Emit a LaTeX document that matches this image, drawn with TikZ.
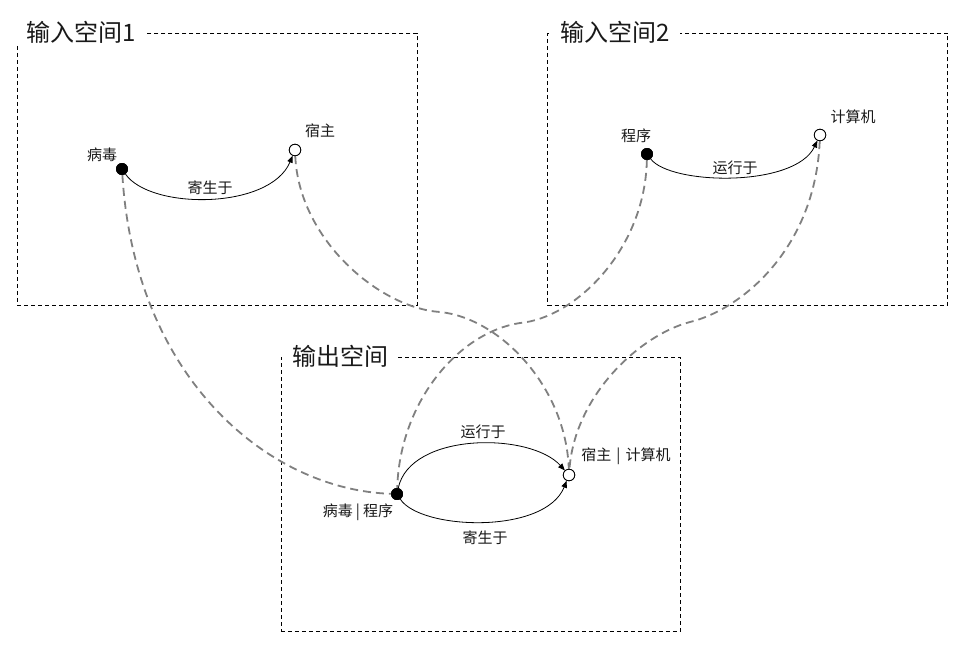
\documentclass[tikz,border=0pt]{standalone}
\usepackage{fontspec}
\newfontfamily\cjk{Noto Sans CJK SC}
\usetikzlibrary{arrows.meta}
\begin{document}
\begin{tikzpicture}[x=1pt,y=-1pt,
  spacebox/.style={draw=black, dash pattern=on 4pt off 3pt, line width=0.8pt, inner sep=0pt, anchor=north west},
  spacetitle/.style={fill=white, inner xsep=10pt, inner ysep=2pt, text=black!90, font=\cjk\fontsize{24}{27}\selectfont},
  lbl/.style={font=\cjk\fontsize{15}{17}\selectfont, inner sep=0pt, text=black!90},
  fdot/.style={circle, fill=black, draw=black, minimum size=11.5pt, inner sep=0pt},
  odot/.style={circle, fill=white, draw=black, line width=0.8pt, minimum size=11.5pt, inner sep=0pt},
  rel/.style={draw=black, line width=0.8pt, -{Triangle[length=7pt,width=5.5pt]}},
  mapline/.style={draw=black!50, line width=1.8pt, dash pattern=on 8pt off 5pt}
]
\useasboundingbox (0,0) rectangle (972,653);
\fill[white] (0,0) rectangle (972,653);

% space frames
\node[spacebox, minimum width=400pt, minimum height=272.3pt] (box1) at (16.7,32.7) {};
\node[spacebox, minimum width=400pt, minimum height=272.3pt] (box2) at (547.3,32.7) {};
\node[spacebox, minimum width=399.5pt, minimum height=273.7pt] (box3) at (280.5,357.3) {};

\node[spacetitle] (t1) at (81.5,32) {输入空间1};
\node[spacetitle] (t2) at (615,32) {输入空间2};
\node[spacetitle] (t3) at (340,356) {输出空间};

% points
\node[fdot] (v) at (122,169) {};
\node[odot] (h) at (295,150) {};
\node[fdot] (p) at (647,154) {};
\node[odot] (c) at (820,135) {};
\node[fdot] (vp) at (397,494) {};
\node[odot] (hc) at (569,475) {};

% waypoints of the mapping lines
\coordinate (m2) at (440,312);
\coordinate (m3) at (520,323);
\coordinate (m4) at (690,322);

% point labels
\node[lbl] (lv) at (102,155) {病毒};
\node[lbl] (lh) at (320,131) {宿主};
\node[lbl] (lp) at (636,136) {程序};
\node[lbl] (lc) at (853,117) {计算机};
\node[lbl] (lvp) at (358,512) {病毒\hspace{3pt}|\hspace{3pt}程序};
\node[lbl] (lhc) at (626,456) {宿主\hspace{5pt}|\hspace{5pt}计算机};

% mapping lines
\draw[mapline] (v) .. controls +(13,211) and +(-127,-4) .. (vp);
\draw[mapline] (h) .. controls +(4,90) and +(-60,-4) .. (m2)
                   .. controls +(60,6) and +(-3,-88) .. (hc);
\draw[mapline] (p) .. controls +(-2,96) and +(55,-5) .. (m3)
                   .. controls +(-60,9) and +(3,-94) .. (vp);
\draw[mapline] (c) .. controls +(-5,115) and +(50,-12) .. (m4)
                   .. controls +(-50,13) and +(6,-80) .. (hc);

% relations
\draw[rel] (v) .. controls +(28,41) and +(-25,60) .. (h);
\draw[rel] (p) .. controls +(23,31) and +(-25,53) .. (c);
\draw[rel] (vp) .. controls +(13,-62) and +(-39,-43) .. (hc);
\draw[rel] (vp) .. controls +(23,36) and +(-24,60) .. (hc);

% relation labels
\node[lbl] (r1) at (210,188) {寄生于};
\node[lbl] (r2) at (735,168) {运行于};
\node[lbl] (r3) at (483,432) {运行于};
\node[lbl] (r4) at (485,538) {寄生于};

% redraw points on top
\node[fdot] at (v) {};
\node[odot] at (h) {};
\node[fdot] at (p) {};
\node[odot] at (c) {};
\node[fdot] at (vp) {};
\node[odot] at (hc) {};
\end{tikzpicture}
\end{document}
